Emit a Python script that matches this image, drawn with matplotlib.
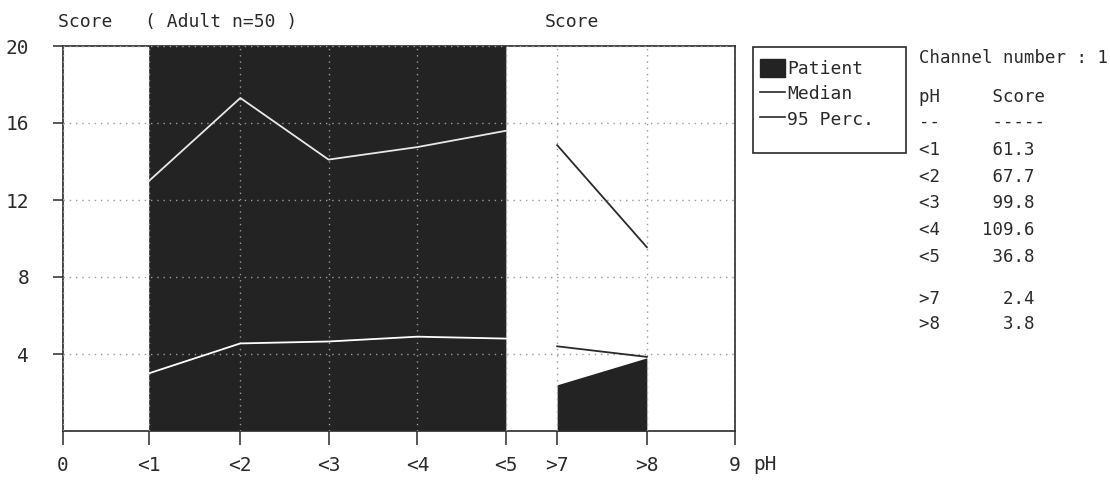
import matplotlib
matplotlib.use("Agg")
import matplotlib.pyplot as plt
from matplotlib.patches import Patch, Rectangle
from matplotlib.lines import Line2D

plt.rcParams['font.family'] = ['DejaVu Sans Mono', 'DejaVu Sans']
plt.rcParams['font.size'] = 13

ink = '#2a2a2a'
dark = '#232323'

# data
tick_labels = ['0', '<1', '<2', '<3', '<4', '<5', '>7', '>8', '9']
tick_pos = [0, 1.16, 2.38, 3.56, 4.75, 5.94, 6.62, 7.82, 9]

acid_labels = ['<1', '<2', '<3', '<4', '<5']
acid_pos = [1.16, 2.38, 3.56, 4.75, 5.94]
acid_patient = [61.3, 67.7, 99.8, 109.6, 36.8]
acid_median = [3.0, 4.55, 4.65, 4.9, 4.8]
acid_p95 = [13.0, 17.3, 14.1, 14.75, 15.6]

alk_labels = ['>7', '>8']
alk_pos = [6.62, 7.82]
alk_patient = [2.4, 3.8]
alk_median = [4.4, 3.85]
alk_p95 = [14.85, 9.55]

y_ticks = [4, 8, 12, 16, 20]

W, H = 1110, 483
fig = plt.figure(figsize=(W / 100, H / 100), dpi=100)
ax = fig.add_axes([62.5 / W, 1 - 431 / H, (735 - 62.5) / W, (431 - 46) / H])

# patient score area (clipped at 20 by the y-limits)
ax.fill_between(acid_pos, 0, acid_patient, color=dark, lw=0, zorder=1)
ax.fill_between(alk_pos, 0, alk_patient, color=dark, lw=0, zorder=1)

# reference curves: white over the dark area, dark on white
ax.plot(acid_pos, acid_median, color='white', lw=1.3, zorder=3)
ax.plot(acid_pos, acid_p95, color='#e8e8e8', lw=1.3, zorder=3)
ax.plot(alk_pos, alk_median, color=ink, lw=1.3, zorder=3)
ax.plot(alk_pos, alk_p95, color=ink, lw=1.3, zorder=3)

ax.set_xlim(0, 9)
ax.set_ylim(0, 20)
ax.set_xticks(tick_pos)
ax.set_xticklabels(tick_labels)
ax.set_yticks(y_ticks)
ax.set_axisbelow(False)
ax.grid(color='#9a9a9a', linestyle=(0, (1, 3.5)), lw=1.0)
ax.tick_params(axis='x', direction='out', length=10, width=1.1, color=ink,
               pad=8, labelcolor=ink, labelsize=14)
ax.tick_params(axis='y', direction='out', length=7, width=1.1, color=ink,
               pad=17, labelcolor=ink, labelsize=14)
for s in ax.spines.values():
    s.set_color(ink)
    s.set_linewidth(1.2)

fig.text(753 / W, 1 - 465 / H, 'pH', va='center', ha='left', color=ink, fontsize=14)
fig.text(58 / W, 1 - 22 / H, 'Score   ( Adult n=50 )', va='center', ha='left', color=ink)
fig.text(545 / W, 1 - 22 / H, 'Score', va='center', ha='left', color=ink)

# legend
handles = [Patch(facecolor=dark, edgecolor=dark),
           Line2D([], [], color=ink, lw=1.2),
           Line2D([], [], color=ink, lw=1.2)]
leg = fig.legend(handles, ['Patient', 'Median', '95 Perc.'], loc='upper left',
                 bbox_to_anchor=(760 / W, 1 - 59 / H), frameon=False,
                 borderpad=0, borderaxespad=0, handlelength=1.4,
                 handleheight=1.15, handletextpad=0.12, labelspacing=0.35)
for t in leg.get_texts():
    t.set_color(ink)
fig.add_artist(Rectangle((753 / W, 1 - 153 / H), 153 / W, 106 / H,
                         transform=fig.transFigure, fill=False, ec=ink, lw=1.2))

# score table
x0 = 919 / W
tbl = dict(va='center', color=ink, fontsize=12.5)
fig.text(x0, 1 - 58 / H, 'Channel number : 1', **tbl)
fig.text(x0, 1 - 97 / H, 'pH     Score', **tbl)
fig.text(x0, 1 - 122 / H, '--     -----', **tbl)
for i, (lab, val) in enumerate(zip(acid_labels, acid_patient)):
    fig.text(x0, 1 - (150 + 26.7 * i) / H, f'{lab:<4}{val:>7.1f}', **tbl)
for i, (lab, val) in enumerate(zip(alk_labels, alk_patient)):
    fig.text(x0, 1 - (299 + 25 * i) / H, f'{lab:<4}{val:>7.1f}', **tbl)

fig.savefig('out.png', dpi=100, facecolor='white')
